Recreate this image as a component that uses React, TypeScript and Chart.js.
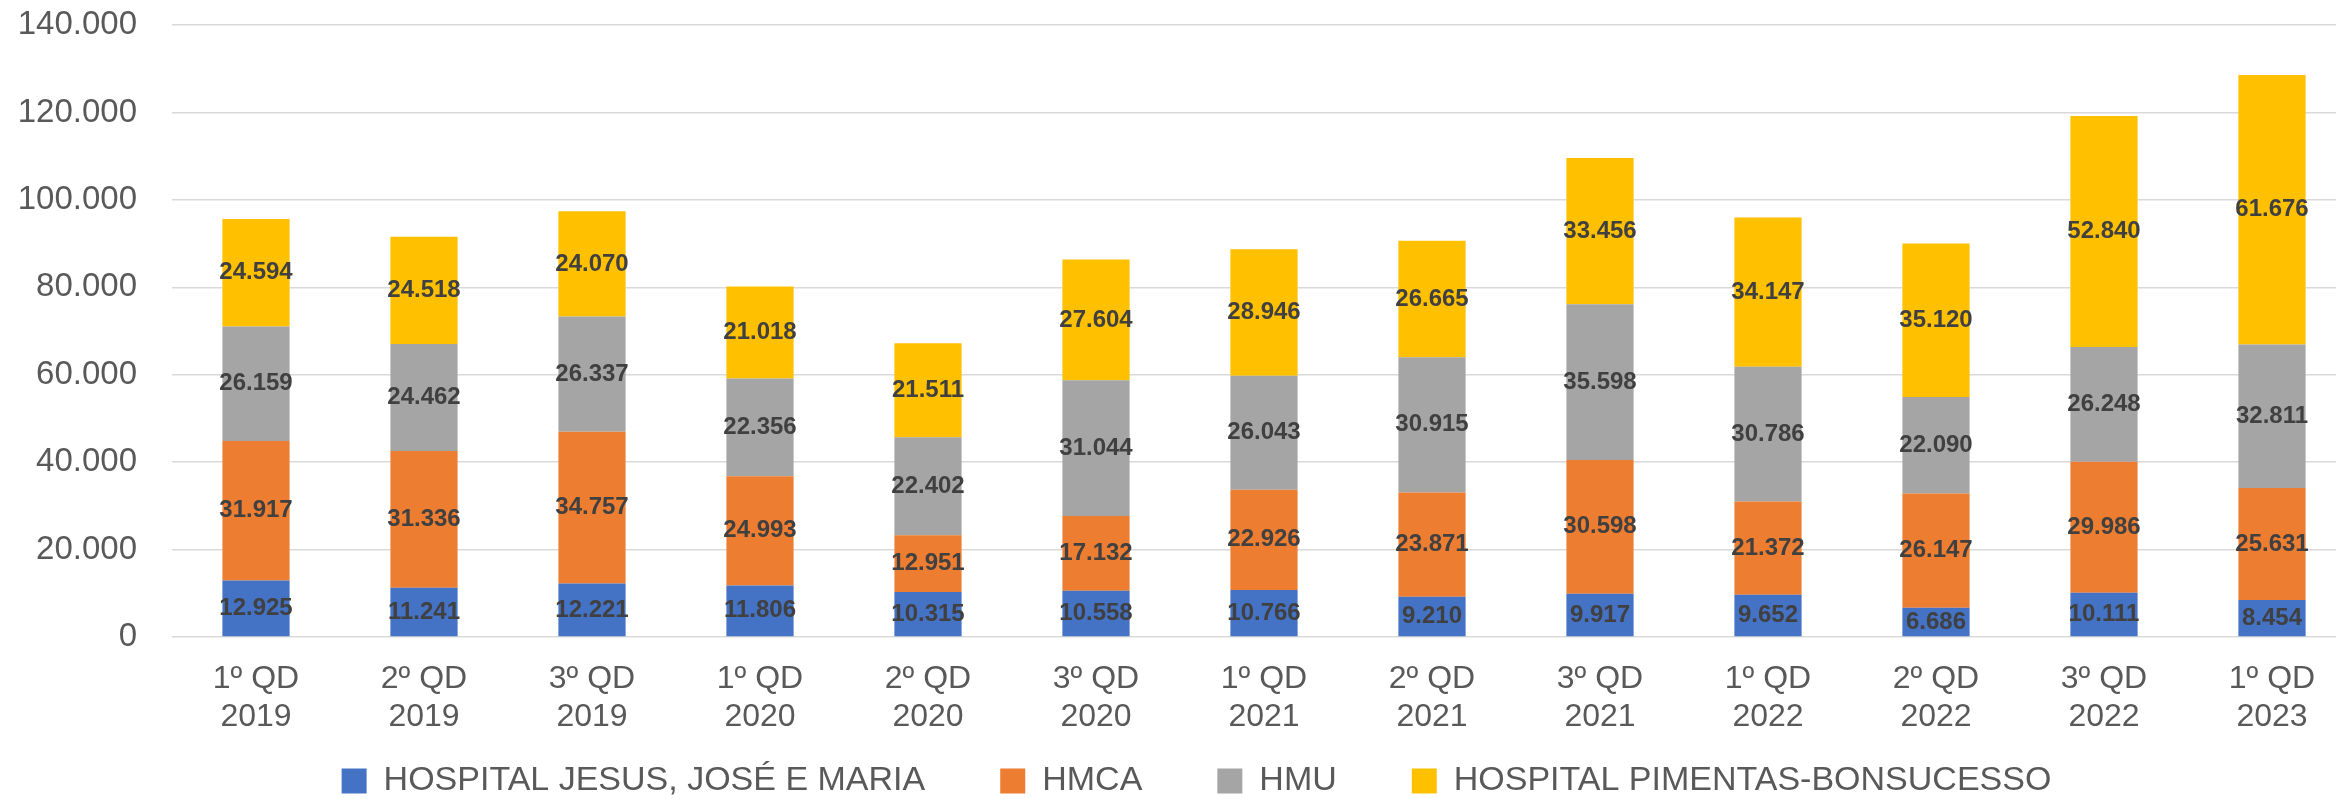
import React, { useEffect, useRef } from "react";
import { Chart, registerables } from "chart.js";

Chart.register(...registerables);

const categories: string[][] = [
  ["1º QD", "2019"], ["2º QD", "2019"], ["3º QD", "2019"],
  ["1º QD", "2020"], ["2º QD", "2020"], ["3º QD", "2020"],
  ["1º QD", "2021"], ["2º QD", "2021"], ["3º QD", "2021"],
  ["1º QD", "2022"], ["2º QD", "2022"], ["3º QD", "2022"],
  ["1º QD", "2023"],
];

const seriesNames = [
  "HOSPITAL JESUS, JOSÉ E MARIA",
  "HMCA",
  "HMU",
  "HOSPITAL PIMENTAS-BONSUCESSO",
];

const hjjm = [12925, 11241, 12221, 11806, 10315, 10558, 10766, 9210, 9917, 9652, 6686, 10111, 8454];
const hmca = [31917, 31336, 34757, 24993, 12951, 17132, 22926, 23871, 30598, 21372, 26147, 29986, 25631];
const hmu = [26159, 24462, 26337, 22356, 22402, 31044, 26043, 30915, 35598, 30786, 22090, 26248, 32811];
const pimentas = [24594, 24518, 24070, 21018, 21511, 27604, 28946, 26665, 33456, 34147, 35120, 52840, 61676];

const colors = ["#4472C4", "#ED7D31", "#A5A5A5", "#FFC000"];

const yMin = 0;
const yMax = 140000;
const yStep = 20000;

const FONT = "'Liberation Sans', Arial, sans-serif";

const fmt = (v: number) =>
  String(Math.round(v)).replace(/\B(?=(\d{3})+(?!\d))/g, ".");

const dataLabelPlugin = {
  id: "centerLabels",
  afterDatasetsDraw(chart: any) {
    const ctx = chart.ctx;
    ctx.save();
    ctx.font = `bold 24px ${FONT}`;
    ctx.fillStyle = "#404040";
    ctx.textAlign = "center";
    ctx.textBaseline = "middle";
    chart.data.datasets.forEach((ds: any, di: number) => {
      const meta = chart.getDatasetMeta(di);
      if (meta.hidden) return;
      meta.data.forEach((el: any, i: number) => {
        const v = ds.data[i];
        const y = (el.y + el.base) / 2;
        ctx.fillText(fmt(v), el.x, y);
      });
    });
    ctx.restore();
  },
};

// widen the label clip areas so tick labels are not cut off
const labelAreaPlugin = {
  id: "labelArea",
  afterLayout(chart: any) {
    const y = chart.scales.y;
    const x = chart.scales.x;
    if (y) y.left = 0;
    if (x) x.bottom = chart.height;
  },
};

export default function App() {
  const ref = useRef<HTMLCanvasElement | null>(null);

  useEffect(() => {
    if (!ref.current) return;
    const allSeries = [hjjm, hmca, hmu, pimentas];
    const chart = new Chart(ref.current, {
      type: "bar",
      data: {
        labels: categories,
        datasets: allSeries.map((d, i) => ({
          label: seriesNames[i],
          data: d,
          backgroundColor: colors[i],
          borderWidth: 0,
          barPercentage: 1,
          categoryPercentage: 0.4,
        })),
      },
      options: {
        responsive: false,
        animation: false,
        devicePixelRatio: 1,
        layout: { padding: { left: 37, right: 4, top: 25, bottom: 0 } },
        plugins: {
          tooltip: { enabled: false },
          legend: {
            position: "bottom",
            labels: {
              boxWidth: 25,
              boxHeight: 25,
              padding: 75,
              color: "#595959",
              font: { family: FONT, size: 34 },
            },
          },
        },
        scales: {
          x: {
            stacked: true,
            grid: { display: false, drawTicks: false },
            border: { display: false },
            ticks: {
              color: "#595959",
              font: { family: FONT, size: 32 },
              padding: 23,
              maxRotation: 0,
              autoSkip: false,
            },
            afterFit: (scale: any) => {
              scale.height = 52;
            },
          },
          y: {
            stacked: true,
            min: yMin,
            max: yMax,
            grid: {
              color: "#D9D9D9",
              lineWidth: 1.5,
              drawTicks: true,
              tickLength: 35,
              tickColor: "rgba(0,0,0,0)",
            },
            border: { display: false },
            ticks: {
              stepSize: yStep,
              color: "#595959",
              font: { family: FONT, size: 33 },
              padding: 0,
              callback: (v: any) => fmt(Number(v)),
            },
            afterFit: (scale: any) => {
              scale.width = 135;
            },
          },
        },
      },
      plugins: [dataLabelPlugin, labelAreaPlugin],
    });
    return () => chart.destroy();
  }, []);

  return (
    <div
      style={{
        position: "fixed",
        left: 0,
        top: 0,
        width: 2336,
        height: 799,
        overflow: "hidden",
        background: "#ffffff",
      }}
    >
      <canvas ref={ref} width={2360} height={808} style={{ display: "block" }} />
    </div>
  );
}
